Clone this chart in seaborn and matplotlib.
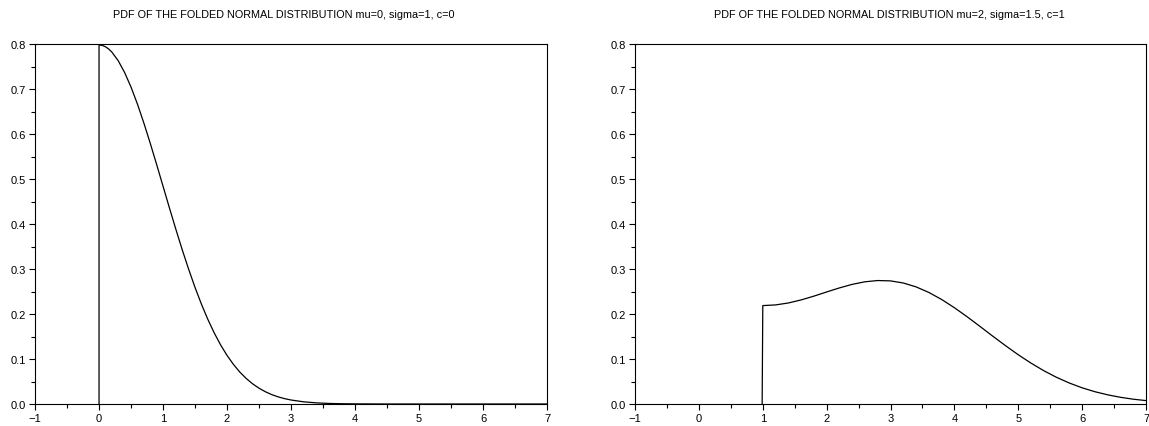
import matplotlib
matplotlib.use("Agg")
import matplotlib.pyplot as plt
from matplotlib.ticker import MultipleLocator
import seaborn as sns
import pandas as pd

# Left panel: mu=0, sigma=1, c=0
left_x = [0.0, 0.0, 0.05, 0.1, 0.15, 0.2, 0.3, 0.4, 0.5, 0.6, 0.7, 0.8, 0.9, 1.0, 1.1,
          1.2, 1.3, 1.4, 1.5, 1.6, 1.7, 1.8, 1.9, 2.0, 2.1, 2.2, 2.3, 2.4, 2.5, 2.6,
          2.7, 2.8, 2.9, 3.0, 3.2, 3.4, 3.6, 3.8, 4.0, 4.5, 5.0, 5.5, 6.0, 6.5, 7.0]
left_y = [0.0, 0.7979, 0.7969, 0.7939, 0.7890, 0.7821, 0.7628, 0.7365, 0.7041, 0.6665,
          0.6245, 0.5794, 0.5322, 0.4839, 0.4357, 0.3884, 0.3427, 0.2995, 0.2590, 0.2218,
          0.1881, 0.1579, 0.1312, 0.1080, 0.0880, 0.0709, 0.0567, 0.0448, 0.0351, 0.0272,
          0.0208, 0.0158, 0.0119, 0.0089, 0.0048, 0.0025, 0.0012, 0.0006, 0.0003, 0.0,
          0.0, 0.0, 0.0, 0.0, 0.0]

# Right panel: mu=2, sigma=1.5, c=1
right_x = [0.99, 1.0, 1.2, 1.4, 1.6, 1.8, 2.0, 2.2, 2.4, 2.6, 2.8, 3.0, 3.2, 3.4, 3.6,
           3.8, 4.0, 4.2, 4.4, 4.6, 4.8, 5.0, 5.2, 5.4, 5.6, 5.8, 6.0, 6.2, 6.4, 6.6,
           6.8, 7.0]
right_y = [0.0, 0.2187, 0.2202, 0.2245, 0.2313, 0.2397, 0.2490, 0.2580, 0.2659, 0.2716,
           0.2744, 0.2736, 0.2689, 0.2603, 0.2479, 0.2323, 0.2140, 0.1938, 0.1725, 0.1508,
           0.1297, 0.1094, 0.0908, 0.0740, 0.0592, 0.0466, 0.0360, 0.0273, 0.0204, 0.0149,
           0.0107, 0.0076]

titles = ["PDF OF THE FOLDED NORMAL DISTRIBUTION mu=0, sigma=1, c=0",
          "PDF OF THE FOLDED NORMAL DISTRIBUTION mu=2, sigma=1.5, c=1"]

sns.set_style("ticks")
plt.rcParams['font.family'] = ['Liberation Sans', 'DejaVu Sans']

fig = plt.figure(figsize=(11.49, 4.27), dpi=100)
axes = [fig.add_axes([0.0305, 0.0515, 0.4456, 0.8431]),
        fig.add_axes([0.5527, 0.0515, 0.4447, 0.8431])]

for i, (ax, xs, ys, title) in enumerate(zip(axes, [left_x, right_x], [left_y, right_y], titles)):
    df = pd.DataFrame({"x": xs, "y": ys})
    sns.lineplot(data=df, x="x", y="y", ax=ax, estimator=None, sort=False,
                 color="black", linewidth=0.9)
    ax.set_xlim(-1, 7)
    ax.set_ylim(0, 0.8)
    ax.xaxis.set_major_locator(MultipleLocator(1))
    ax.xaxis.set_minor_locator(MultipleLocator(0.5))
    ax.yaxis.set_major_locator(MultipleLocator(0.1))
    ax.yaxis.set_minor_locator(MultipleLocator(0.05))
    ax.set_xticklabels([f"{int(v)}" if v >= 0 else "\u2212" + f"{int(-v)}" for v in ax.get_xticks()])
    ax.set_yticklabels([f"{v:.1f}" for v in ax.get_yticks()])
    ax.tick_params(which="major", direction="out", length=4.5, width=0.8, labelsize=8,
                   colors="black", pad=2)
    ax.tick_params(which="minor", direction="out", length=3, width=0.8, colors="black")
    for s in ax.spines.values():
        s.set_linewidth(0.8)
        s.set_color("black")
    ax.set_xlabel("")
    ax.set_ylabel("")
    ax.set_title(title, fontsize=7.8, pad=19.5, color="black",
                 x=0.485 if i == 0 else 0.497)

fig.savefig("out.png", dpi=100)
